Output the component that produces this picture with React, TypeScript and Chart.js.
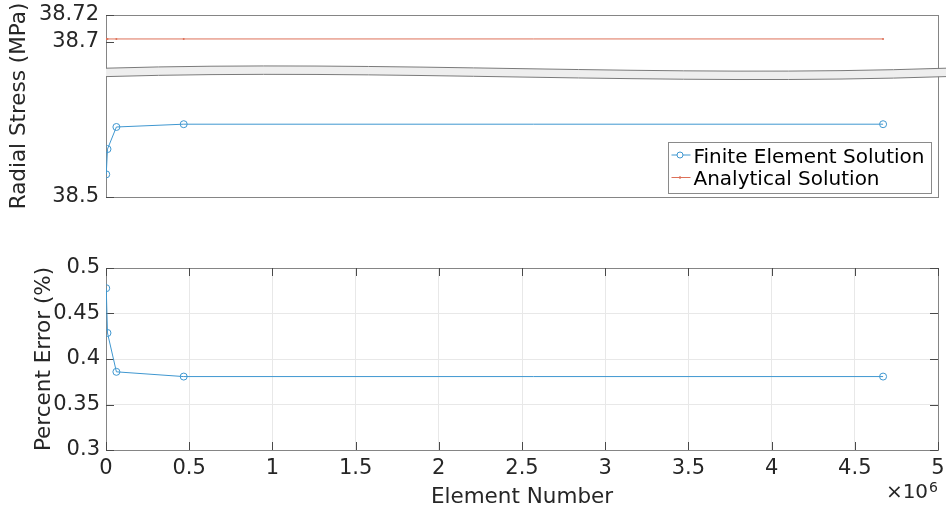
import { useEffect, useRef } from 'react';
import { Chart, registerables } from 'chart.js';

Chart.register(...registerables);

// Mesh sizes (number of elements) used in the convergence study
const elementCounts = [1500, 9000, 62500, 467000, 4670000];
// Radial stress at the probe point (MPa)
const feStress = [38.517, 38.536, 38.5526, 38.5547, 38.5547];
const analyticalStress = [38.702, 38.702, 38.702, 38.702, 38.702];
// Relative error of the FE result (%)
const percentError = [0.4778, 0.4286, 0.3859, 0.3807, 0.3807];

const seriesLabels = ['Finite Element Solution', 'Analytical Solution'];

// Broken stress axis: an upper window and a lower window with the same scale
const stressUpperRange = [38.67725, 38.72];
const stressLowerRange = [38.5, 38.594];
const stressUpperTicks = [38.7, 38.72];
const stressLowerTicks = [38.5];

const errorRange = [0.3, 0.5];
const errorStep = 0.05;
const elementRange = [0, 5e6];
const elementStep = 5e5;

const FONT = '"DejaVu Sans", sans-serif';
const TEXT = '#262626';
const AXIS = '#858585';
const TICK = '#4a4a4a';
const GRID = '#e8e8e8';
const BLUE = '#3f97d0';
const RED = '#dd7058';
const TITLE_SIZE = 21.5;
const AXIS_WIDTH = 106;

const fmt = (v: number) => String(Math.round(v * 1000) / 1000);

// fixed-size y axis that does not push the plot area around
const fixedYAxis = (s: any) => {
  s.width = AXIS_WIDTH;
  s.paddingTop = 0;
  s.paddingBottom = 0;
};

function line(ctx: CanvasRenderingContext2D, x1: number, y1: number, x2: number, y2: number) {
  ctx.beginPath();
  ctx.moveTo(x1, y1);
  ctx.lineTo(x2, y2);
  ctx.stroke();
}

function drawBox(ctx: CanvasRenderingContext2D, a: any) {
  ctx.strokeStyle = AXIS;
  ctx.lineWidth = 1;
  ctx.strokeRect(
    Math.round(a.left) + 0.5,
    Math.round(a.top) + 0.5,
    Math.round(a.right - a.left),
    Math.round(a.bottom - a.top)
  );
}

function drawYTitle(ctx: CanvasRenderingContext2D, text: string, baselineX: number, cy: number) {
  ctx.save();
  ctx.translate(baselineX, cy);
  ctx.rotate(-Math.PI / 2);
  ctx.font = `${TITLE_SIZE}px ${FONT}`;
  ctx.fillStyle = TEXT;
  ctx.textAlign = 'center';
  ctx.textBaseline = 'alphabetic';
  ctx.fillText(text, 0, 0);
  ctx.restore();
}

const stressFrame = {
  id: 'stressFrame',
  beforeDatasetsDraw(chart: any) {
    const { ctx, chartArea: a } = chart;
    ctx.save();
    drawBox(ctx, a);
    ctx.strokeStyle = TICK;
    for (const id of ['yUp', 'yLow']) {
      const s = chart.scales[id];
      for (const t of s.ticks) {
        const y = Math.round(s.getPixelForValue(t.value)) + 0.5;
        line(ctx, a.left, y, a.left + 8, y);
      }
    }
    ctx.restore();
  },
  afterDatasetsDraw(chart: any) {
    const { ctx, chartArea: a } = chart;
    ctx.save();

    // axis break band between the two stress windows
    const split = chart.scales.yUp.bottom;
    const x0 = a.left;
    const x1 = a.right + 8;
    const w = x1 - x0;
    const gap = 8.4;
    const edge = (dy: number) => ({
      s: [x0, split - 3.7 + dy],
      c1: [x0 + w / 3, split - 12 + dy],
      c2: [x0 + (2 * w) / 3, split + 6 + dy],
      e: [x1, split - 3.7 + dy],
    });
    const up = edge(0);
    const lo = edge(gap);
    ctx.beginPath();
    ctx.moveTo(up.s[0], up.s[1]);
    ctx.bezierCurveTo(up.c1[0], up.c1[1], up.c2[0], up.c2[1], up.e[0], up.e[1]);
    ctx.lineTo(lo.e[0], lo.e[1]);
    ctx.bezierCurveTo(lo.c2[0], lo.c2[1], lo.c1[0], lo.c1[1], lo.s[0], lo.s[1]);
    ctx.closePath();
    ctx.fillStyle = '#eeeeee';
    ctx.fill();
    ctx.strokeStyle = '#7a7a7a';
    ctx.lineWidth = 1;
    for (const e of [up, lo]) {
      ctx.beginPath();
      ctx.moveTo(e.s[0], e.s[1]);
      ctx.bezierCurveTo(e.c1[0], e.c1[1], e.c2[0], e.c2[1], e.e[0], e.e[1]);
      ctx.stroke();
    }

    // legend in the lower right corner
    const lw = 263;
    const lh = 51;
    const lx = Math.round(a.right - 7 - lw) + 0.5;
    const ly = Math.round(a.bottom - 4 - lh) + 0.5;
    ctx.fillStyle = '#ffffff';
    ctx.fillRect(lx, ly, lw, lh);
    ctx.strokeStyle = '#8a8a8a';
    ctx.strokeRect(lx, ly, lw, lh);
    ctx.font = `20px ${FONT}`;
    ctx.textAlign = 'left';
    ctx.textBaseline = 'alphabetic';
    chart.data.datasets.forEach((ds: any, i: number) => {
      const base = ly + 20 + i * 22.5;
      const my = base - 7.5;
      ctx.strokeStyle = ds.borderColor;
      ctx.lineWidth = 1;
      line(ctx, lx + 3, my, lx + 22, my);
      ctx.beginPath();
      ctx.arc(lx + 11.5, my, i === 0 ? 3 : 1.2, 0, Math.PI * 2);
      if (i === 0) {
        ctx.fillStyle = '#ffffff';
        ctx.fill();
        ctx.stroke();
      } else {
        ctx.fillStyle = ds.borderColor;
        ctx.fill();
      }
      ctx.fillStyle = '#000000';
      ctx.fillText(ds.label, lx + 25, base);
    });

    drawYTitle(ctx, 'Radial Stress (MPa)', 25, (a.top + a.bottom) / 2);
    ctx.restore();
  },
};

const errorFrame = {
  id: 'errorFrame',
  beforeDatasetsDraw(chart: any) {
    const { ctx, chartArea: a } = chart;
    ctx.save();
    drawBox(ctx, a);
    ctx.strokeStyle = TICK;
    ctx.lineWidth = 1;
    const xs = chart.scales.x;
    for (const t of xs.ticks) {
      const x = Math.round(xs.getPixelForValue(t.value)) + 0.5;
      line(ctx, x, a.bottom, x, a.bottom - 8);
      line(ctx, x, a.top, x, a.top + 8);
    }
    const ys = chart.scales.y;
    for (const t of ys.ticks) {
      const y = Math.round(ys.getPixelForValue(t.value)) + 0.5;
      line(ctx, a.left, y, a.left + 8, y);
      line(ctx, a.right, y, a.right - 8, y);
    }
    ctx.restore();
  },
  afterDatasetsDraw(chart: any) {
    const { ctx, chartArea: a } = chart;
    ctx.save();
    ctx.fillStyle = TEXT;
    ctx.textBaseline = 'alphabetic';
    ctx.textAlign = 'center';
    ctx.font = `${TITLE_SIZE}px ${FONT}`;
    ctx.fillText('Element Number', (a.left + a.right) / 2, a.bottom + 53);

    // exponent of the element axis
    ctx.textAlign = 'right';
    ctx.font = `14px ${FONT}`;
    const expW = ctx.measureText('6').width;
    ctx.fillText('6', a.right, a.bottom + 42);
    ctx.font = `20px ${FONT}`;
    ctx.fillText('\u00d710', a.right - expW - 1, a.bottom + 48);

    drawYTitle(ctx, 'Percent Error (%)', 50, (a.top + a.bottom) / 2);
    ctx.restore();
  },
};

const tickFont = { family: FONT, size: 21 };

function stressConfig(): any {
  return {
    type: 'line',
    data: {
      datasets: [
        {
          label: seriesLabels[0],
          data: elementCounts.map((x, i) => ({ x, y: feStress[i] })),
          yAxisID: 'yLow',
          borderColor: BLUE,
          borderWidth: 1,
          pointRadius: 3.5,
          pointBorderWidth: 1,
          pointBorderColor: BLUE,
          pointBackgroundColor: 'rgba(0,0,0,0)',
          tension: 0,
        },
        {
          label: seriesLabels[1],
          data: elementCounts.map((x, i) => ({ x, y: analyticalStress[i] })),
          yAxisID: 'yUp',
          borderColor: RED,
          borderWidth: 1,
          pointRadius: 1,
          pointBorderWidth: 0,
          pointBackgroundColor: RED,
          tension: 0,
        },
      ],
    },
    options: {
      animation: false,
      responsive: true,
      maintainAspectRatio: false,
      layout: { autoPadding: false, padding: { left: 0, right: 8, top: 15, bottom: 33 } },
      plugins: { legend: { display: false }, tooltip: { enabled: false } },
      scales: {
        x: { type: 'linear', min: elementRange[0], max: elementRange[1], display: false },
        yLow: {
          type: 'linear',
          position: 'left',
          stack: 'stress',
          stackWeight: stressLowerRange[1] - stressLowerRange[0],
          weight: 0,
          min: stressLowerRange[0],
          max: stressLowerRange[1],
          afterBuildTicks: (s: any) => {
            s.ticks = stressLowerTicks.map((value) => ({ value }));
          },
          afterFit: fixedYAxis,
          grid: { display: false, drawTicks: false },
          border: { display: false },
          ticks: { padding: 7, font: tickFont, color: TEXT, callback: (v: number) => fmt(v) },
        },
        yUp: {
          type: 'linear',
          position: 'left',
          stack: 'stress',
          stackWeight: stressUpperRange[1] - stressUpperRange[0],
          weight: 1,
          min: stressUpperRange[0],
          max: stressUpperRange[1],
          afterBuildTicks: (s: any) => {
            s.ticks = stressUpperTicks.map((value) => ({ value }));
          },
          afterFit: fixedYAxis,
          grid: { display: false, drawTicks: false },
          border: { display: false },
          ticks: { padding: 7, font: tickFont, color: TEXT, callback: (v: number) => fmt(v) },
        },
      },
    },
    plugins: [stressFrame],
  };
}

function errorConfig(): any {
  return {
    type: 'line',
    data: {
      datasets: [
        {
          label: 'Percent Error',
          data: elementCounts.map((x, i) => ({ x, y: percentError[i] })),
          borderColor: BLUE,
          borderWidth: 1,
          pointRadius: 3.5,
          pointBorderWidth: 1,
          pointBorderColor: BLUE,
          pointBackgroundColor: 'rgba(0,0,0,0)',
          tension: 0,
        },
      ],
    },
    options: {
      animation: false,
      responsive: true,
      maintainAspectRatio: false,
      layout: { autoPadding: false, padding: { left: 0, right: 8, top: 38, bottom: 0 } },
      plugins: { legend: { display: false }, tooltip: { enabled: false } },
      scales: {
        x: {
          type: 'linear',
          min: elementRange[0],
          max: elementRange[1],
          afterFit: (s: any) => {
            s.height = 61;
            s.paddingLeft = 0;
            s.paddingRight = 0;
          },
          grid: { color: GRID, lineWidth: 1, drawTicks: false },
          border: { display: false },
          ticks: {
            stepSize: elementStep,
            autoSkip: false,
            maxRotation: 0,
            padding: 6,
            font: tickFont,
            color: TEXT,
            callback: (v: number) => String(Math.round((v / 1e6) * 10) / 10),
          },
        },
        y: {
          type: 'linear',
          min: errorRange[0],
          max: errorRange[1],
          afterFit: fixedYAxis,
          grid: { color: GRID, lineWidth: 1, drawTicks: false },
          border: { display: false },
          ticks: { stepSize: errorStep, padding: 6, font: tickFont, color: TEXT, callback: (v: number) => fmt(v) },
        },
      },
    },
    plugins: [errorFrame],
  };
}

export default function App() {
  const topRef = useRef<HTMLCanvasElement>(null);
  const bottomRef = useRef<HTMLCanvasElement>(null);

  useEffect(() => {
    Chart.defaults.font.family = FONT;
    Chart.defaults.color = TEXT;
    const top = new Chart(topRef.current as HTMLCanvasElement, stressConfig());
    const bottom = new Chart(bottomRef.current as HTMLCanvasElement, errorConfig());
    return () => {
      top.destroy();
      bottom.destroy();
    };
  }, []);

  return (
    <div style={{ position: 'absolute', left: 0, top: 0, width: 946, height: 511, background: '#ffffff' }}>
      <div style={{ position: 'absolute', left: 0, top: 0, width: 946, height: 230 }}>
        <canvas ref={topRef} />
      </div>
      <div style={{ position: 'absolute', left: 0, top: 230, width: 946, height: 281 }}>
        <canvas ref={bottomRef} />
      </div>
    </div>
  );
}
